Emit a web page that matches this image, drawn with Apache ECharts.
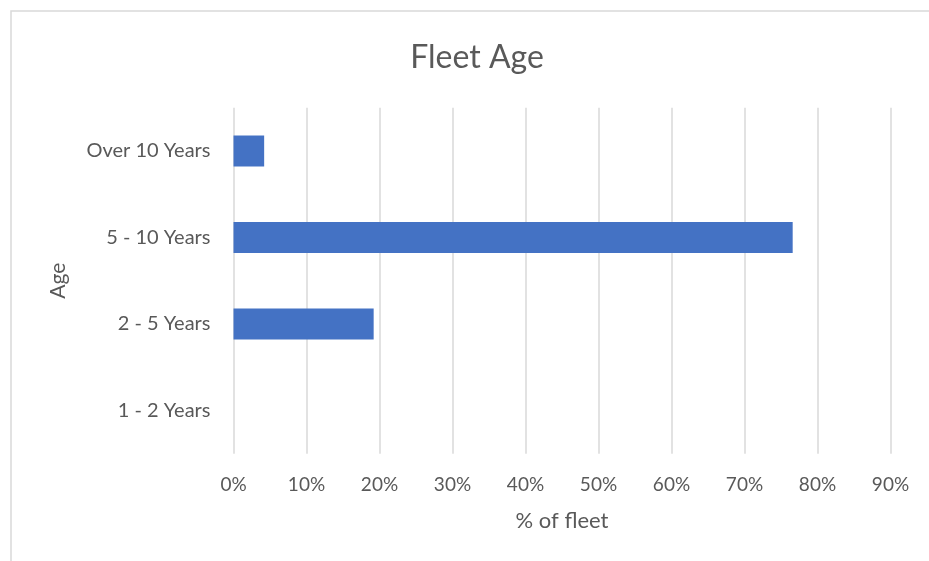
<!DOCTYPE html>
<html>
<head>
<meta charset="utf-8">
<script src="https://cdn.jsdelivr.net/npm/echarts@6/dist/echarts.min.js"></script>
<style>
html,body{margin:0;padding:0;background:#fff;}
#chart{width:929px;height:561px;}
</style>
</head>
<body>
<div id="chart"></div>
<script>
const categories = ['1 - 2 Years', '2 - 5 Years', '5 - 10 Years', 'Over 10 Years'];
const shareOfFleet = [0, 19.2, 76.6, 4.2];
const xTicks = [0, 10, 20, 30, 40, 50, 60, 70, 80, 90];

const FONT = 'Lato';
const chart = echarts.init(document.getElementById('chart'), null, {renderer: 'canvas'});
chart.setOption({
  animation: false,
  backgroundColor: '#ffffff',
  title: {
    text: 'Fleet Age',
    left: 472,
    textAlign: 'center',
    top: 37,
    textStyle: {fontFamily: FONT, fontSize: 32, fontWeight: 'normal', color: '#595959'}
  },
  graphic: [{
    type: 'rect',
    shape: {x: 11, y: 11, width: 1000, height: 1000},
    style: {fill: 'none', stroke: '#d9d9d9', lineWidth: 1.5},
    silent: true
  }],
  grid: {left: 233.5, right: 38.5, top: 107.75, bottom: 107.25, containLabel: false},
  xAxis: {
    type: 'value',
    min: xTicks[0],
    max: xTicks[xTicks.length - 1],
    interval: 10,
    axisLine: {show: false},
    axisTick: {show: false},
    splitLine: {show: true, lineStyle: {color: '#d9d9d9', width: 1.5}},
    axisLabel: {formatter: '{value}%', fontFamily: FONT, fontSize: 19, color: '#595959', margin: 22},
    name: '% of fleet',
    nameLocation: 'middle',
    nameGap: 56,
    nameTextStyle: {fontFamily: FONT, fontSize: 22, color: '#595959'}
  },
  yAxis: {
    type: 'category',
    data: categories,
    axisLine: {show: false},
    axisTick: {show: false},
    splitLine: {show: false},
    axisLabel: {fontFamily: FONT, fontSize: 20, color: '#595959', margin: 23},
    name: 'Age',
    nameLocation: 'middle',
    nameRotate: 90,
    nameGap: 165,
    nameTextStyle: {fontFamily: FONT, fontSize: 21, color: '#595959'}
  },
  series: [{
    type: 'bar',
    data: shareOfFleet,
    barWidth: 31,
    itemStyle: {color: '#4472C4'}
  }]
});
</script>
</body>
</html>
